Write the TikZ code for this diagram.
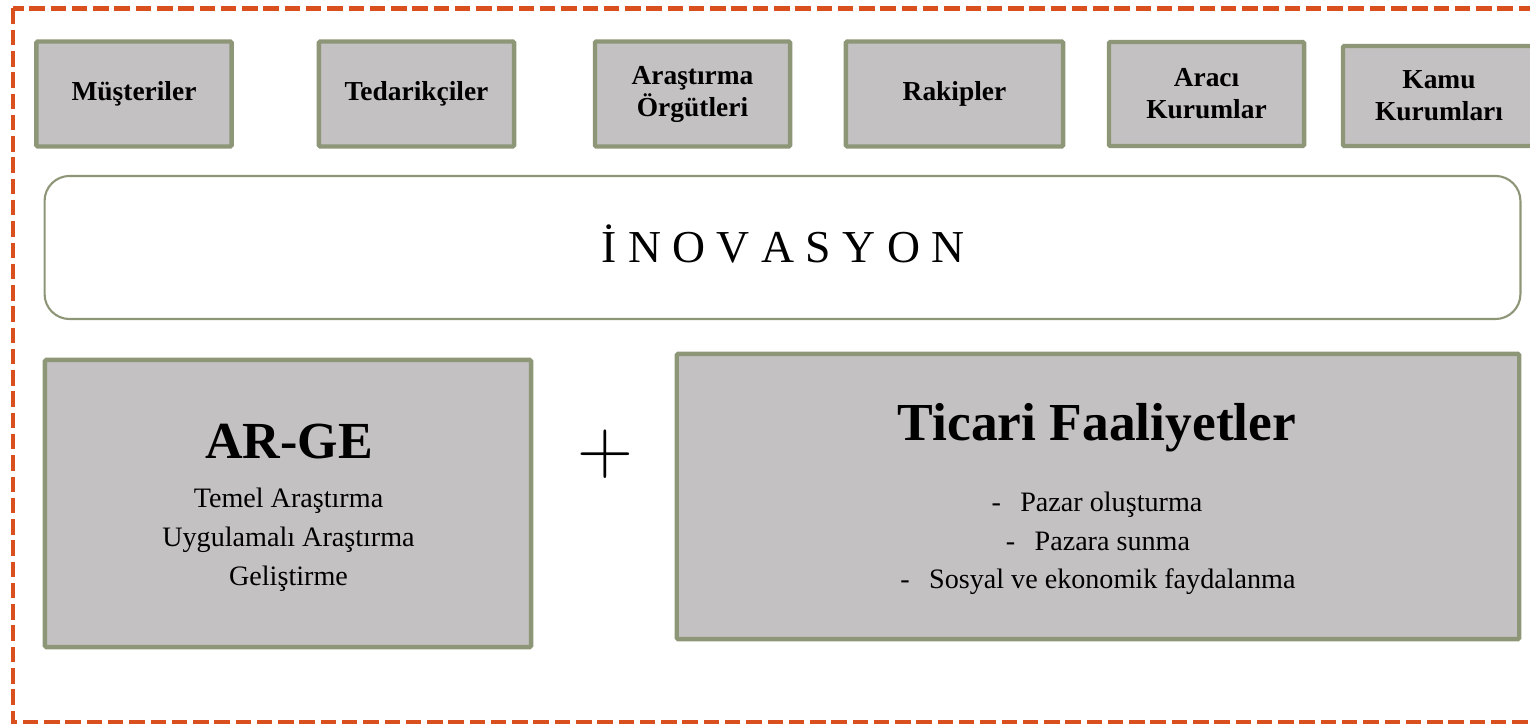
\documentclass[tikz,border=0pt]{standalone}
\usepackage{fontspec}
\newfontfamily\libserif{Liberation Serif}
\usetikzlibrary{positioning}
\definecolor{boxfill}{HTML}{C3C1C2}
\definecolor{boxline}{HTML}{8E9678}
\definecolor{frameorange}{HTML}{D9501E}
\tikzset{
  actor/.style={draw=boxline,fill=boxfill,line width=1.25pt,rounded corners=0.4pt,align=center,inner sep=0pt,
    minimum width=1.95cm,minimum height=1.05cm,font=\libserif\fontsize{7.8}{9.1}\selectfont\bfseries},
  bigbox/.style={draw=boxline,fill=boxfill,line width=1.25pt,rounded corners=0.4pt,inner sep=0pt},
  bigtitle/.style={anchor=base,inner sep=0pt,font=\libserif\fontsize{14.8}{14.8}\selectfont\bfseries},
  itemtext/.style={anchor=base,inner sep=0pt,font=\libserif\fontsize{8}{8}\selectfont}
}

\begin{document}
\begin{tikzpicture}[x=0.01cm,y=-0.01cm]
\useasboundingbox (0,0) rectangle (1530,725);
% outer frame
\draw[frameorange,line width=1.4pt,dash pattern=on 4.4pt off 1.65pt] (13,8.5) rectangle (1560,722);
% actors
\node[actor] (musteri) at (134,94) {\raisebox{-0.8pt}{Müşteriler}};
\node[actor] (tedarik) at (416.5,94) {\raisebox{-0.8pt}{Tedarikçiler}};
\node[actor] (arastirma) at (692.5,94) {Araştırma\\Örgütleri};
\node[actor,minimum width=2.17cm] (rakip) at (954.5,94) {\raisebox{-0.8pt}{Rakipler}};
\node[actor,minimum height=1.04cm] (araci) at (1206.5,94) {Aracı\\Kurumlar};
\node[actor,minimum width=1.92cm,minimum height=1.0cm] (kamu) at (1439,96) {Kamu\\Kurumları};
% innovation band
\node[draw=boxline,line width=0.6pt,rounded corners=0.25cm,minimum width=14.75cm,minimum height=1.43cm] (inovbox) at (782.5,247.5) {};
\node[anchor=base,inner sep=0pt,font=\libserif\fontsize{13}{13}\selectfont] (inov) at (783,263) {İ N O V A S Y O N};
% AR-GE
\node[bigbox,minimum width=4.86cm,minimum height=2.87cm] (argebox) at (288,503.5) {};
\node[bigtitle] (arge) at (289,459) {AR-GE};
\node[itemtext] (temel) at (288.5,508) {Temel Araştırma};
\node[itemtext] (uygulama) at (288.5,547) {Uygulamalı Araştırma};
\node[itemtext] (gelistirme) at (288.5,586) {Geliştirme};
% plus
\node[inner sep=0pt,font=\fontsize{22}{22}\selectfont] (plus) at (605,454) {+};
% Ticari Faaliyetler
\node[bigbox,minimum width=8.42cm,minimum height=2.85cm] (ticaribox) at (1098,496.5) {};
\node[bigtitle,font=\libserif\fontsize{15.2}{15.2}\selectfont\bfseries] (ticari) at (1097,441) {Ticari Faaliyetler};
\node[itemtext] (pazar) at (1097,512) {-\hspace{5.5pt}Pazar oluşturma};
\node[itemtext] (sunma) at (1098,551) {-\hspace{5.5pt}Pazara sunma};
\node[itemtext] (fayda) at (1098,589) {-\hspace{5.5pt}Sosyal ve ekonomik faydalanma};
\end{tikzpicture}
\end{document}
